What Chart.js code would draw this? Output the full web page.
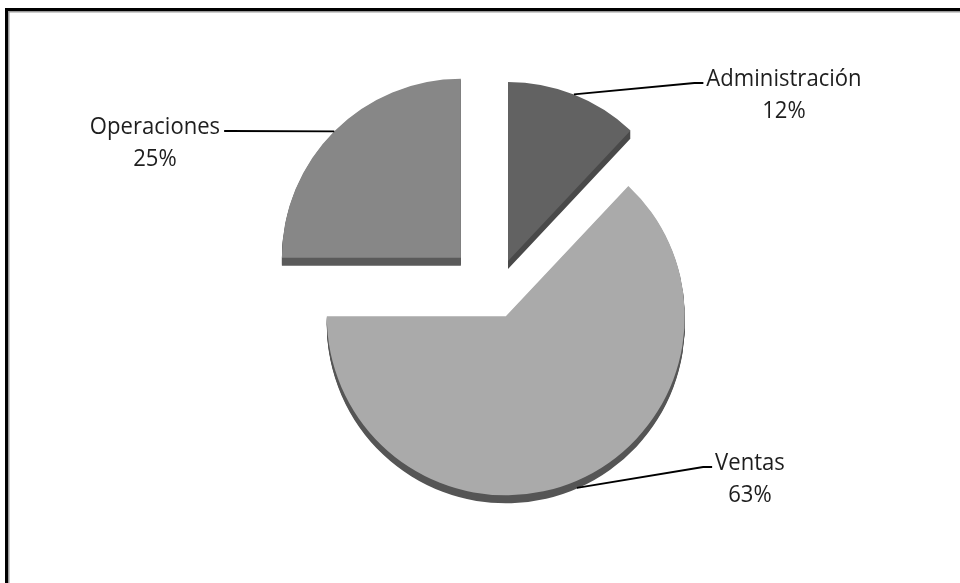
<!DOCTYPE html>
<html>
<head>
<meta charset="utf-8">
<title>Distribución por área</title>
<script src="https://cdn.jsdelivr.net/npm/chart.js@4/dist/chart.umd.min.js"></script>
<style>
  html, body { margin: 0; padding: 0; background: #ffffff; }
  canvas { display: block; }
</style>
</head>
<body>
<canvas id="chart" width="960" height="583"></canvas>
<script>
// Share of each area, in percent (pie starts at 12 o'clock, clockwise)
const categories = ['Administración', 'Ventas', 'Operaciones'];
const shares = [12, 63, 25];
const percentLabels = shares.map(v => v + '%');

// Styling
const faceColors = ['#626262', '#aaaaaa', '#878787'];
const sideColors = ['#494949', '#555555', '#5a5a5a'];
const explodeDistance = [34, 26, 49];   // px each slice is pulled out from the centre
const sideDepth = 8;                     // px thickness of the slice edge

// Where each data label sits (centre x, baseline of the first line) and
// which side of the text the leader line arrives from
const labelLayout = [
  { x: 784, y: 86,  from: 'left'  },
  { x: 750, y: 470, from: 'left'  },
  { x: 155, y: 134, from: 'right' }
];
const labelFont = '23px "Open Sans", "Noto Sans", sans-serif';
const labelScaleX = 0.96;
const lineGap = 32;

// Pull every slice out along its bisector
const explodePlugin = {
  id: 'explode',
  afterDatasetsUpdate(chart) {
    chart.getDatasetMeta(0).data.forEach((arc, i) => {
      const mid = (arc.startAngle + arc.endAngle) / 2;
      arc.x += Math.cos(mid) * explodeDistance[i];
      arc.y += Math.sin(mid) * explodeDistance[i];
    });
  }
};

// Darker extruded edge under each slice to give it thickness
const thicknessPlugin = {
  id: 'thickness',
  beforeDatasetsDraw(chart) {
    const ctx = chart.ctx;
    chart.getDatasetMeta(0).data.forEach((arc, i) => {
      ctx.save();
      ctx.fillStyle = sideColors[i];
      for (let k = 1; k <= sideDepth; k++) {
        ctx.beginPath();
        ctx.moveTo(arc.x, arc.y + k);
        ctx.arc(arc.x, arc.y + k, arc.outerRadius, arc.startAngle, arc.endAngle);
        ctx.closePath();
        ctx.fill();
      }
      ctx.restore();
    });
  }
};

// Category name + percentage with a leader line back to the slice
const labelPlugin = {
  id: 'pieLabels',
  afterDatasetsDraw(chart) {
    const ctx = chart.ctx;
    chart.getDatasetMeta(0).data.forEach((arc, i) => {
      const mid = (arc.startAngle + arc.endAngle) / 2;
      const ax = arc.x + Math.cos(mid) * arc.outerRadius;
      const ay = arc.y + Math.sin(mid) * arc.outerRadius + Math.max(0, Math.sin(mid)) * sideDepth;
      const lay = labelLayout[i];

      ctx.save();
      ctx.font = labelFont;
      const w = ctx.measureText(categories[i]).width * labelScaleX;
      const endY = lay.y - 3;
      let endX, elbowX;
      if (lay.from === 'left') {
        endX = lay.x - w / 2 - 3;
        elbowX = endX - 9;
      } else {
        endX = lay.x + w / 2 + 4;
        elbowX = endX + 5;
      }
      ctx.strokeStyle = '#000000';
      ctx.lineWidth = 1.8;
      ctx.beginPath();
      ctx.moveTo(ax, ay);
      ctx.lineTo(elbowX, endY);
      ctx.lineTo(endX, endY);
      ctx.stroke();

      ctx.fillStyle = '#1e1e1e';
      ctx.textAlign = 'center';
      ctx.textBaseline = 'alphabetic';
      [categories[i], percentLabels[i]].forEach((txt, j) => {
        ctx.save();
        ctx.translate(lay.x, lay.y + j * lineGap);
        ctx.scale(labelScaleX, 1);
        ctx.fillText(txt, 0, 0);
        ctx.restore();
      });
      ctx.restore();
    });
  }
};

// Chart frame (top and left edges)
const framePlugin = {
  id: 'frame',
  afterDraw(chart) {
    const ctx = chart.ctx;
    ctx.save();
    ctx.strokeStyle = '#000000';
    ctx.lineWidth = 3;
    ctx.beginPath();
    ctx.moveTo(6.5, 2000);
    ctx.lineTo(6.5, 9.5);
    ctx.lineTo(2000, 9.5);
    ctx.stroke();
    ctx.strokeStyle = '#9a9a9a';
    ctx.lineWidth = 1.5;
    ctx.beginPath();
    ctx.moveTo(8.75, 2000);
    ctx.lineTo(8.75, 11.75);
    ctx.lineTo(2000, 11.75);
    ctx.stroke();
    ctx.restore();
  }
};

new Chart(document.getElementById('chart'), {
  type: 'pie',
  data: {
    labels: categories,
    datasets: [{
      data: shares,
      backgroundColor: faceColors,
      borderWidth: 0
    }]
  },
  options: {
    responsive: false,
    animation: false,
    events: [],
    layout: { padding: { top: 113.5, bottom: 111.5, left: 200, right: 169 } },
    plugins: {
      legend: { display: false },
      tooltip: { enabled: false },
      title: { display: false }
    }
  },
  plugins: [explodePlugin, thicknessPlugin, labelPlugin, framePlugin]
});
</script>
</body>
</html>
